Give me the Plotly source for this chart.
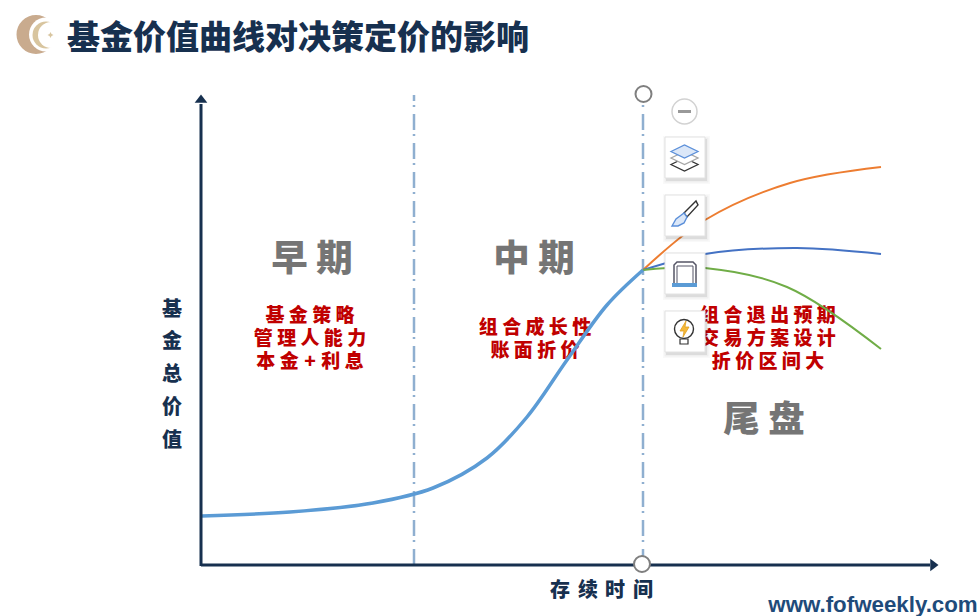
import plotly.graph_objects as go

CJK = "Noto Sans CJK SC"
NAVY = "#17304f"
RED = "#c00000"

# Horizontal position and height on the canvas-scaled axes (height counted upward)
main_x = [202, 290, 373, 433, 487, 527, 567, 607, 643]
main_y = [100, 104, 113, 128, 158, 199, 256, 311, 346]
high_x = [643, 705, 790, 881]
high_y = [346, 396, 433, 449]
mid_x = [643, 705, 797, 881]
mid_y = [346, 362, 368, 362]
low_x = [643, 705, 787, 881]
low_y = [346, 348, 329, 267]

period_labels = ["早 期", "中 期", "尾 盘"]
period_x = [312, 534, 764]
period_y = [354, 354, 193]
note_labels = ["基 金 策 略", "管 理 人 能 力", "本 金 \u200a+\u200a 利 息",
               "组 合 成 长 性", "账 面 折 价",
               "组 合 退 出 预 期", "交 易 方 案 设 计", "折 价 区 间 大"]
note_x = [310, 310, 310, 535, 535, 768, 768, 768]
note_y = [299, 276, 253, 287, 264, 299, 276, 253]
yaxis_chars = list("基金总价值")
yaxis_char_y = [305, 273, 240, 207, 174]
xaxis_chars = list("存续时间")
xaxis_char_x = [560, 588, 615, 643]
splits_x = [414, 643]

fig = go.Figure()


def line(x, y, color, width, dash=None, smooth=False):
    fig.add_trace(go.Scatter(x=x, y=y, mode="lines", hoverinfo="skip", line=dict(
        color=color, width=width, dash=dash, shape="spline" if smooth else "linear", smoothing=1.0)))


def text(x, y, labels, size, color, family=CJK, weight=900):
    fig.add_trace(go.Scatter(x=x, y=y, text=labels, mode="text", hoverinfo="skip", textposition="middle center",
                             textfont=dict(family=family, size=size, color=color, weight=weight)))


# dashed period dividers
for sx, top in zip(splits_x, [521, 512]):
    line([sx, sx], [51, top], "#8fafd0", 2.5, "16px,7px,2px,4px")

# text sits below the toolbar boxes
text(period_x, period_y, period_labels, 36.5, "#757575")
text(note_x, note_y, note_labels, 19, RED)

# curves
line(high_x, high_y, "#ed7d31", 2, smooth=True)
line(mid_x, mid_y, "#4472c4", 2, smooth=True)
line(low_x, low_y, "#70ad47", 2, smooth=True)
line(main_x, main_y, "#5b9bd5", 3.5, smooth=True)

# axes
line([201, 201], [50, 512], NAVY, 3)
line([201, 930], [51, 51], NAVY, 3)
fig.add_trace(go.Scatter(x=[201, 933], y=[516, 51], mode="markers", hoverinfo="skip", marker=dict(
    symbol=["triangle-up", "triangle-right"], size=11, color=NAVY, line=dict(width=0))))

# hollow handles
fig.add_trace(go.Scatter(x=[643.5, 642], y=[522, 52], mode="markers", hoverinfo="skip", marker=dict(
    size=16, color="white", line=dict(color="#7f7f7f", width=2))))

text([172] * 5, yaxis_char_y, yaxis_chars, 20, NAVY)
text(xaxis_char_x, [24] * 4, xaxis_chars, 20, NAVY)
text([873], [10], ["www.fofweekly.com"], 22.3, "#1f4b7a", "Liberation Sans", 700)
text([298], [575], ["基金价值曲线对决策定价的影响"], 33, NAVY)

shapes = []


def sh(**k):
    shapes.append(dict(layer="above", xref="x", yref="y", **k))


def rect(x0, y0, x1, y1, fill, lc=None, lw=0):
    sh(type="rect", x0=x0, x1=x1, y0=616 - y0, y1=616 - y1, fillcolor=fill, line=dict(color=lc or fill, width=lw))


def circ(cx, cy, r, fill, lc=None, lw=0):
    sh(type="circle", x0=cx - r, x1=cx + r, y0=616 - cy - r, y1=616 - cy + r, fillcolor=fill,
       line=dict(color=lc or fill, width=lw))


def path(points, fill="rgba(0,0,0,0)", lc="#333333", lw=1.5, close=True):
    d = "M" + " L".join(f"{x},{616 - y}" for x, y in points) + (" Z" if close else "")
    sh(type="path", path=d, fillcolor=fill, line=dict(color=lc, width=lw))


# logo
circ(36, 34.5, 19.5, "#c9ab8e")
circ(46, 34.5, 17, "white")
circ(46, 35, 13.5, "#d8c59f")
circ(51, 35, 13, "white")
path([(50.5, 32), (51.5, 34), (53.5, 35), (51.5, 36), (50.5, 38), (49.5, 36), (47.5, 35), (49.5, 34)],
     fill="#d8c59f", lc="#d8c59f", lw=0)

# minus button
circ(684.5, 111.5, 12.5, "white", "#d2d2d2", 1.5)
rect(678, 110, 691, 113, "#999999")

# toolbar boxes
for top in [137, 195, 253, 311]:
    for o, a in [(4, 0.025), (2.5, 0.04), (1, 0.08)]:
        rect(665 - o + 2, top - o + 3, 705 + o + 1, top + 41 + o + 2, f"rgba(0,0,0,{a})")
    rect(665, top, 705, top + 41, "white", "#e2e2e2", 1)

# layers icon
for dy, c, f in [(13, "#333333", "white"), (6.5, "#a6a6a6", "white"), (0, "#5b8fd9", "#dbe7f8")]:
    path([(671, 151.5 + dy), (684.5, 145 + dy), (698, 151.5 + dy), (684.5, 158 + dy)], fill=f, lc=c, lw=1.3)
# brush icon
path([(684, 213), (696, 201), (698, 205), (687, 217)], fill="white", lc="#333333", lw=1.4)
path([(672, 226), (676, 219), (680, 216), (684, 213), (687, 217), (684, 223), (678, 226)],
     fill="#dbe7f8", lc="#5b8fd9", lw=1.4)
# frame icon
path([(674, 283), (674, 265), (677, 262), (693, 262), (696, 265), (696, 283)], lc="#555566", lw=1.5, close=False)
path([(677, 283), (677, 266), (693, 266), (693, 283)], lc="#555566", lw=1, close=False)
rect(672, 283, 697, 287, "#5b9bd5")
# bulb icon
circ(684, 329, 9.5, "white", "#333333", 1.4)
path([(686, 321), (680, 331), (684, 331), (683, 337), (689, 327), (685, 327)], fill="#f5b93a", lc="#e0a020", lw=0.8)
rect(680, 339, 688, 344, "white", "#333333", 1.2)

fig.update_layout(
    width=978, height=616, margin=dict(l=0, r=0, t=0, b=0), showlegend=False,
    paper_bgcolor="white", plot_bgcolor="white", shapes=shapes,
    xaxis=dict(range=[0, 978], visible=False, fixedrange=True),
    yaxis=dict(range=[0, 616], visible=False, fixedrange=True),
)
fig.write_html("out.html", config={"displayModeBar": False},
               post_script="document.body.style.margin='0';document.body.style.overflow='hidden';")
